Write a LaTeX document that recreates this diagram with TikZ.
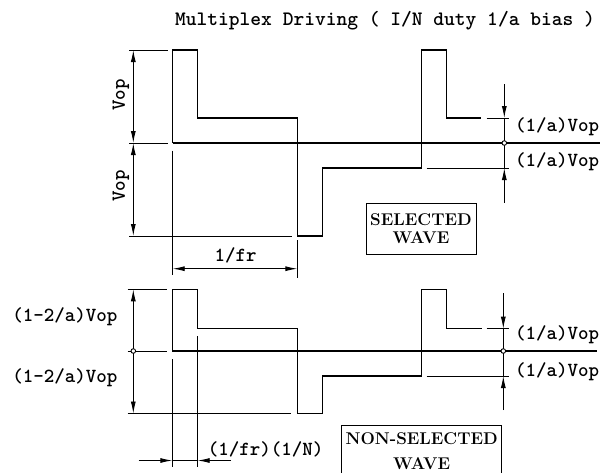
\documentclass[tikz,border=0pt]{standalone}
\usetikzlibrary{arrows.meta}
\tikzset{
  wave/.style={line width=1.3pt},
  dimline/.style={line width=0.9pt},
  dimtip/.style={dimline,-{Latex[length=12pt,width=5pt]}},
  dimboth/.style={dimline,{Latex[length=12pt,width=5pt]}-{Latex[length=12pt,width=5pt]}},
  lbl/.style={font=\ttfamily\bfseries\fontsize{20}{24}\selectfont,inner sep=0pt},
  wavebox/.style={draw,line width=1pt,align=center,inner sep=0pt}
}
\begin{document}
\begin{tikzpicture}[x=1pt,y=-1pt]
\useasboundingbox (0,0) rectangle (613,472);
\node[lbl,font=\ttfamily\bfseries\fontsize{20.5}{24}\selectfont] (title) at (385,21) {Multiplex Driving ( I/N duty 1/a bias )};

% selected wave
\draw[wave] (172.7,143) -- (172.7,50) -- (197.7,50) -- (197.7,118) -- (297.3,118) -- (297.3,236)
  -- (322.3,236) -- (322.3,168) -- (421.7,168) -- (421.7,50) -- (446.7,50) -- (446.7,118) -- (481,118);
\draw[wave] (172.7,143) -- (600,143);
\draw[dimline] (129,50) -- (167.7,50);
\draw[dimline] (129,143) -- (167.7,143);
\draw[dimline] (129,236) -- (291.7,236);
\draw[dimline] (172.7,150.7) -- (172.7,275);
\draw[dimline] (297.3,240) -- (297.3,278);
\draw[dimboth] (133.3,50) -- (133.3,143);
\draw[dimboth] (133.3,143) -- (133.3,236);
\node[lbl,rotate=90] (vophi) at (121,95) {Vop};
\node[lbl,rotate=90] (voplo) at (121,186) {Vop};
\draw[dimboth] (172.7,268.7) -- (297.3,268.7);
\node[lbl] (period) at (235.5,255) {1/fr};
% right side of selected wave
\draw[dimline] (486.7,118) -- (509,118);
\draw[dimline] (426.7,168) -- (509,168);
\draw[dimtip] (504.3,84) -- (504.3,118);
\draw[dimline] (504.3,118) -- (504.3,168);
\draw[dimtip] (504.3,202.7) -- (504.3,168);
\draw[dimline,fill=white] (504.3,143) circle (2.3pt);
\node[lbl,anchor=west] (selhi) at (515,127) {(1/a)Vop};
\node[lbl,anchor=west] (sello) at (515,162) {(1/a)Vop};
\node[wavebox,minimum width=110pt,minimum height=51pt,
  font=\rmfamily\bfseries\fontsize{17}{17.7}\selectfont] (selbox) at (421,228.7) {SELECTED\\WAVE};

% non-selected wave
\draw[wave] (172.3,351) -- (172.3,289.3) -- (197.7,289.3) -- (197.7,328.7) -- (297.3,328.7) -- (297.3,413.5)
  -- (322.3,413.5) -- (322.3,376) -- (421.7,376) -- (421.7,289.3) -- (446.7,289.3) -- (446.7,328.7) -- (481.7,328.7);
\draw[wave] (172.3,351) -- (596.7,351);
\draw[dimline] (127.7,289.3) -- (166.7,289.3);
\draw[dimline] (127.7,351) -- (166.7,351);
\draw[dimline] (127.7,413.5) -- (291,413.5);
\draw[dimboth] (133.3,289.3) -- (133.3,413.5);
\draw[dimline,fill=white] (133.3,351) circle (2.3pt);
\node[lbl] (nselhi) at (65,317) {(1-2/a)Vop};
\node[lbl] (nsello) at (65,378) {(1-2/a)Vop};
\draw[dimline] (172.3,359.3) -- (172.3,466.7);
\draw[dimline] (197.7,336) -- (197.7,466.7);
\draw[dimtip] (138.7,460.5) -- (172.3,460.5);
\draw[dimline] (172.3,460.5) -- (197.7,460.5);
\draw[dimtip] (231,460.5) -- (197.7,460.5);
\node[lbl] (slot) at (265.5,449) {(1/fr)(1/N)};
% right side of non-selected wave
\draw[dimline] (486.7,328.7) -- (509,328.7);
\draw[dimline] (426.7,376) -- (509,376);
\draw[dimtip] (503.3,293.3) -- (503.3,328.7);
\draw[dimline] (503.3,328.7) -- (503.3,376);
\draw[dimtip] (503.3,410) -- (503.3,376);
\draw[dimline,fill=white] (503.3,351) circle (2.3pt);
\node[lbl,anchor=west] (nsehi) at (515,335) {(1/a)Vop};
\node[lbl,anchor=west] (nselo) at (515,371.7) {(1/a)Vop};
\node[wavebox,minimum width=160pt,minimum height=52pt,
  font=\rmfamily\bfseries\fontsize{17}{24.5}\selectfont] (nselbox) at (421.7,451) {NON-SELECTED\\WAVE};
\end{tikzpicture}
\end{document}
